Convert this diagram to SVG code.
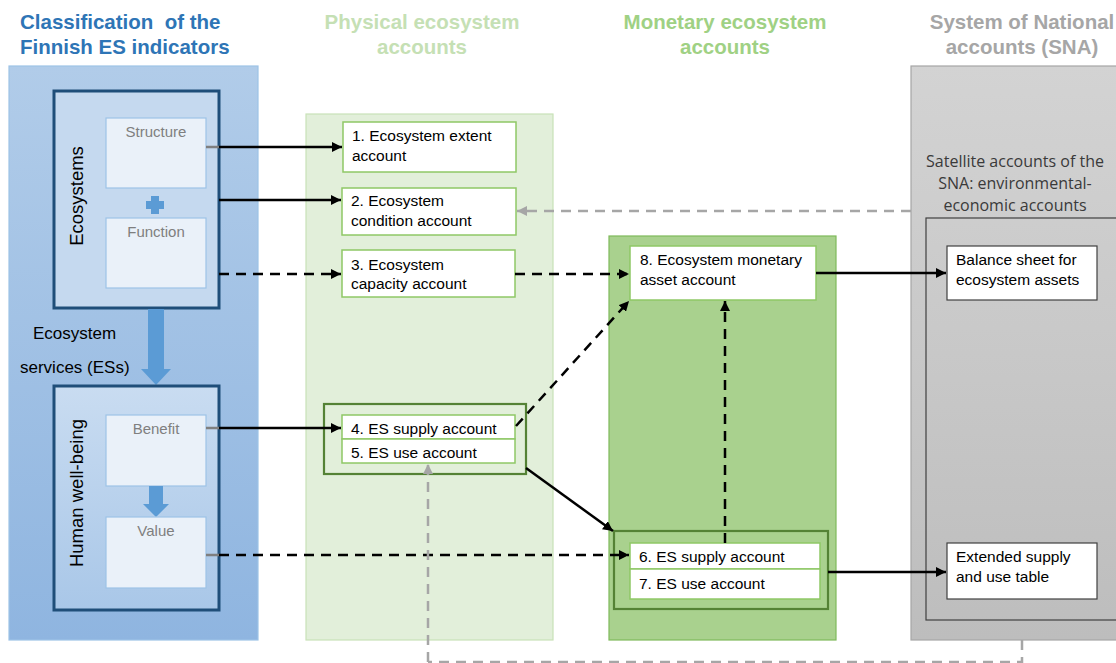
<svg xmlns="http://www.w3.org/2000/svg" width="1116" height="663" viewBox="0 0 1116 663">
  <defs>
    <linearGradient id="gBlue" x1="0" y1="0" x2="0" y2="1">
      <stop offset="0" stop-color="#b1cce9"/>
      <stop offset="1" stop-color="#8fb5e0"/>
    </linearGradient>
    <linearGradient id="gInnerBlue" x1="0" y1="0" x2="0" y2="1">
      <stop offset="0" stop-color="#c9dcf1"/>
      <stop offset="1" stop-color="#a9c7e8"/>
    </linearGradient>
    <linearGradient id="gGray" x1="0" y1="0" x2="0" y2="1">
      <stop offset="0" stop-color="#d3d3d3"/>
      <stop offset="1" stop-color="#bdbdbd"/>
    </linearGradient>
    <marker id="ah" viewBox="0 0 10 10" refX="10" refY="5" markerWidth="4" markerHeight="4" orient="auto" markerUnits="strokeWidth">
      <path d="M0,0 L10,5 L0,10 z" fill="#000"/>
    </marker>
    <marker id="ahGray" viewBox="0 0 10 10" refX="10" refY="5" markerWidth="4" markerHeight="4" orient="auto" markerUnits="strokeWidth">
      <path d="M0,0 L10,5 L0,10 z" fill="#a6a6a6"/>
    </marker>
  </defs>
  <style>
    .hdr { font-family: "Liberation Sans", Arial, sans-serif; font-weight: bold; font-size: 20.5px; white-space: pre; }
    .lbl { font-family: "Liberation Sans", Arial, sans-serif; font-size: 15.5px; fill: #000; }
    .sub { font-family: "Liberation Sans", Arial, sans-serif; font-size: 15px; fill: #7f7f7f; text-anchor: middle; }
    .sna { font-family: "Open Sans", "Liberation Sans", sans-serif; font-size: 16px; fill: #3a3a3a; text-anchor: middle; }
    .vert { font-family: "Liberation Sans", Arial, sans-serif; font-size: 18.5px; fill: #000; text-anchor: middle; }
    .card { fill: #fff; stroke: #8fc866; stroke-width: 1.5; }
    .subbox { fill: #eaf1f9; stroke: #9dc3e6; stroke-width: 1.2; }
    .grp { fill: none; stroke: #548235; stroke-width: 2.2; }
    .solid { fill: none; stroke: #000; stroke-width: 2.5; marker-end: url(#ah); }
    .dash { fill: none; stroke: #000; stroke-width: 2.5; stroke-dasharray: 10 7; marker-end: url(#ah); }
    .gdash { fill: none; stroke: #a6a6a6; stroke-width: 2.5; stroke-dasharray: 10 7; }
    .stub { fill: none; stroke: #7f7f7f; stroke-width: 2.5; }
  </style>

  <rect width="1116" height="663" fill="#fff"/>

  <!-- column headers -->
  <g id="headers">
    <text class="hdr" fill="#2e75b6" x="20" y="29">Classification  of the</text>
    <text class="hdr" fill="#2e75b6" x="20" y="54">Finnish ES indicators</text>
    <text class="hdr" fill="#c5e0b4" x="422" y="29" text-anchor="middle">Physical ecosystem</text>
    <text class="hdr" fill="#c5e0b4" x="422" y="54" text-anchor="middle">accounts</text>
    <text class="hdr" fill="#9fd184" x="725" y="29" text-anchor="middle">Monetary ecosystem</text>
    <text class="hdr" fill="#9fd184" x="725" y="54" text-anchor="middle">accounts</text>
    <text class="hdr" fill="#a6a6a6" x="1022" y="29" text-anchor="middle">System of National</text>
    <text class="hdr" fill="#a6a6a6" x="1022" y="54" text-anchor="middle">accounts (SNA)</text>
  </g>

  <!-- column panels -->
  <g id="panel-classification">
    <rect x="9" y="66" width="249" height="574" fill="url(#gBlue)" stroke="#9dc3e6" stroke-width="1.2"/>
  </g>
  <g id="panel-physical">
    <rect x="306" y="114" width="247" height="526" fill="#e2efda" stroke="#c9e2b8" stroke-width="1.2"/>
  </g>
  <g id="panel-monetary">
    <rect x="609" y="236" width="227" height="404" fill="#a9d18e" stroke="#7fb95a" stroke-width="1.2"/>
  </g>
  <g id="panel-sna">
    <rect x="911" y="66" width="210" height="574" fill="url(#gGray)" stroke="#a6a6a6" stroke-width="1.2"/>
    <text class="sna" x="1015" y="167">Satellite accounts of the</text>
    <text class="sna" x="1015" y="189">SNA: environmental-</text>
    <text class="sna" x="1015" y="211">economic accounts</text>
    <rect x="926" y="218" width="200" height="402" fill="none" stroke="#404040" stroke-width="1.2"/>
  </g>

  <!-- ecosystems block -->
  <g id="ecosystems">
    <rect x="54" y="91" width="165" height="217" fill="#c5d9ef" stroke="#1f4e79" stroke-width="3"/>
    <text class="vert" transform="translate(83,196) rotate(-90)">Ecosystems</text>
  </g>
  <g id="structure">
    <rect class="subbox" x="106" y="118" width="100" height="70" fill="#eef3fa"/>
    <text class="sub" x="156" y="137">Structure</text>
  </g>
  <g id="plus">
    <path d="M151,196 h8 v5 h5 v8 h-5 v5 h-8 v-5 h-5 v-8 h5 z" fill="#5b9bd5"/>
  </g>
  <g id="function">
    <rect class="subbox" x="106" y="218" width="100" height="70" fill="#eef3fa"/>
    <text class="sub" x="156" y="237">Function</text>
  </g>

  <!-- ecosystem services arrow -->
  <g id="es-flow">
    <path d="M148,309 h16 v60 h7 l-15,16 l-15,-16 h7 z" fill="#5b9bd5"/>
    <text class="lbl" style="font-size:17px" x="33" y="339">Ecosystem</text>
    <text class="lbl" style="font-size:17px" x="20" y="373">services (ESs)</text>
  </g>

  <!-- human well-being block -->
  <g id="human-well-being">
    <rect x="54" y="386" width="165" height="224" fill="url(#gInnerBlue)" stroke="#1f4e79" stroke-width="3"/>
    <text class="vert" transform="translate(83,493) rotate(-90)">Human well-being</text>
  </g>
  <g id="benefit">
    <rect class="subbox" x="106" y="415" width="100" height="71"/>
    <text class="sub" x="156" y="434">Benefit</text>
  </g>
  <g id="benefit-to-value">
    <path d="M149,486 h14 v18 h6 l-13,13 l-13,-13 h6 z" fill="#5b9bd5"/>
  </g>
  <g id="value">
    <rect class="subbox" x="106" y="517" width="100" height="71"/>
    <text class="sub" x="156" y="536">Value</text>
  </g>

  <!-- physical accounts -->
  <g id="acc1">
    <rect class="card" x="343" y="122" width="173" height="50"/>
    <text class="lbl" x="352" y="141">1. Ecosystem extent</text>
    <text class="lbl" x="352" y="161">account</text>
  </g>
  <g id="acc2">
    <rect class="card" x="342" y="188" width="174" height="47"/>
    <text class="lbl" x="351" y="206">2. Ecosystem</text>
    <text class="lbl" x="351" y="226">condition account</text>
  </g>
  <g id="acc3">
    <rect class="card" x="342" y="250" width="173" height="47"/>
    <text class="lbl" x="351" y="270">3. Ecosystem</text>
    <text class="lbl" x="351" y="289">capacity account</text>
  </g>
  <g id="acc4-5">
    <rect class="grp" x="324" y="404" width="202" height="70"/>
    <rect class="card" x="342" y="415" width="173" height="24"/>
    <text class="lbl" x="351" y="434">4. ES supply account</text>
    <rect class="card" x="342" y="439" width="173" height="24"/>
    <text class="lbl" x="351" y="458">5. ES use account</text>
  </g>

  <!-- monetary accounts -->
  <g id="acc8">
    <rect class="card" x="630" y="246" width="186" height="54"/>
    <text class="lbl" x="640" y="265">8. Ecosystem monetary</text>
    <text class="lbl" x="640" y="285">asset account</text>
  </g>
  <g id="acc6-7">
    <rect x="614" y="531" width="214" height="78" fill="none" stroke="#548235" stroke-width="2.2"/>
    <rect class="card" x="630" y="543" width="190" height="26"/>
    <text class="lbl" x="639" y="562">6. ES supply account</text>
    <rect class="card" x="630" y="569" width="190" height="30"/>
    <text class="lbl" x="639" y="589">7. ES use account</text>
  </g>

  <!-- SNA tables -->
  <g id="balance-sheet">
    <rect x="947" y="246" width="150" height="54" fill="#fff" stroke="#404040" stroke-width="1.2"/>
    <text class="lbl" x="956" y="265">Balance sheet for</text>
    <text class="lbl" x="956" y="285">ecosystem assets</text>
  </g>
  <g id="supply-use-table">
    <rect x="947" y="543" width="150" height="56" fill="#fff" stroke="#404040" stroke-width="1.2"/>
    <text class="lbl" x="956" y="562">Extended supply</text>
    <text class="lbl" x="956" y="582">and use table</text>
  </g>

  <!-- connectors -->
  <g id="connectors">
    <!-- indicator stubs leaving the sub-boxes -->
    <path class="stub" d="M206,147 H220"/>
    <path class="stub" d="M206,428 H220"/>
    <path class="stub" d="M206,555 H220"/>

    <path class="solid" d="M219,147 H342"/>
    <path class="solid" d="M219,200 H341"/>
    <path class="dash" d="M219,274 H341"/>
    <path class="solid" d="M219,428 H341"/>
    <path class="dash" d="M219,555 H629"/>

    <path class="dash" d="M515,274 H629"/>
    <path class="dash" d="M516,426 L629,301"/>
    <path class="solid" d="M526,468 L613,531"/>
    <path class="dash" d="M725,543 V301"/>

    <path class="solid" d="M816,273 H946"/>
    <path class="solid" d="M828,572 H946"/>

    <!-- satellite accounts feedback -->
    <path class="gdash" d="M911,211 H517" marker-end="url(#ahGray)"/>
    <path class="gdash" d="M1022,640 V662 H428"/>
    <path class="gdash" d="M428,662 V464" marker-end="url(#ahGray)"/>
  </g>
</svg>
